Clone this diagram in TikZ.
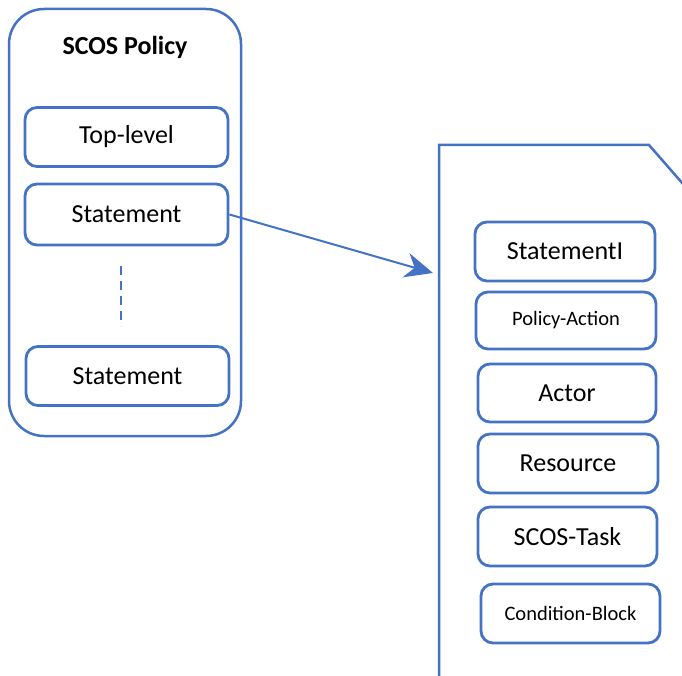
\documentclass[tikz,border=0pt]{standalone}
\usepackage{fontspec}
\setmainfont{Carlito}
\usetikzlibrary{arrows.meta}
\definecolor{obl}{HTML}{4472C4}
\tikzset{
  box/.style={draw=obl, line width=2.8pt, rounded corners=12pt, fill=white,
    minimum width=#1, minimum height=59pt, inner sep=0pt,
    font=\fontsize{26}{30}\selectfont},
  box/.default=203pt,
  smallbox/.style={box=#1, font=\fontsize{20.5}{24}\selectfont},
  smallbox/.default=180pt,
  outer/.style={draw=obl, line width=2.5pt, rounded corners=35pt},
  link/.style={draw=obl, line width=2pt, -{Stealth[length=28pt,width=25pt,inset=9pt]}},
}
\begin{document}
\begin{tikzpicture}[x=1pt,y=-1pt]
\useasboundingbox (0,0) rectangle (682,676);
% outer policy container
\node[outer, minimum width=232pt, minimum height=427pt] (pol) at (125,222.5) {};
\node[font=\fontsize{26}{30}\selectfont\bfseries] (title) at (125,47) {SCOS Policy};
\node[box] (top) at (126.5,137) {Top-level};
\node[box, minimum height=61pt] (st1) at (126.5,214.5) {Statement};
\node[box] (st2) at (127.5,376) {Statement};
\coordinate (d1) at (121,266);
\coordinate (d2) at (121,326);
\draw[obl, line width=1.6pt, dash pattern=on 9pt off 6pt] (d1) -- (d2);
% document shape
\coordinate (c1) at (439,690);
\coordinate (c2) at (439,145);
\coordinate (c3) at (649,145);
\coordinate (c4) at (690,192);
\draw[obl, line width=2.5pt, line join=miter] (c1) -- (c2) -- (c3) -- (c4);
% arrow
\coordinate (tip) at (433,273);
\draw[link] (st1.east) -- (tip);
% statement contents
\node[box=180pt] (sti) at (565,251.5) {StatementI};
\node[smallbox, minimum height=57pt] (pa) at (566,320.5) {Policy-Action};
\node[box=178pt, minimum height=58pt] (ac) at (567,393) {Actor};
\node[box=180pt] (rs) at (568,463.5) {Resource};
\node[box=179pt] (tk) at (567.5,536.5) {SCOS-Task};
\node[smallbox=179pt] (cb) at (570.5,613.5) {Condition-Block};
\end{tikzpicture}
\end{document}
